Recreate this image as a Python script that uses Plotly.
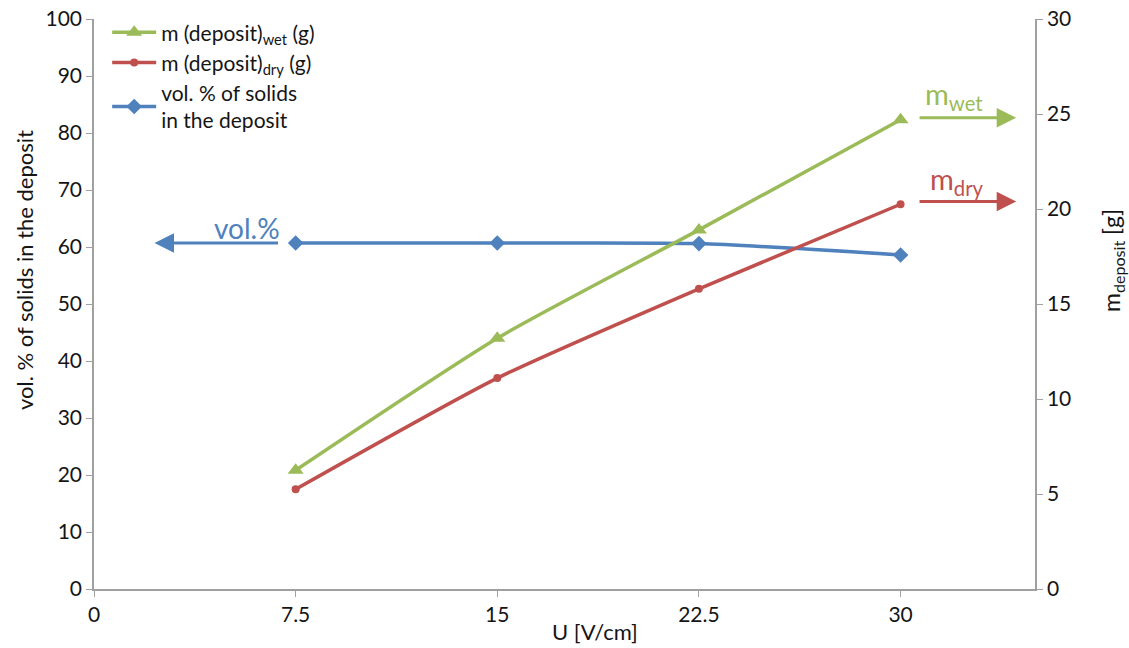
import plotly.graph_objects as go

# Field strength (V/cm)
voltage = [7.5, 15, 22.5, 30]
# Deposit masses (g), right axis
mass_wet = [6.25, 13.2, 18.9, 24.7]
mass_dry = [5.25, 11.1, 15.8, 20.25]
# Solids content of the deposit (vol. %), left axis
vol_solids = [60.7, 60.7, 60.6, 58.6]

x_ticks = [0, 7.5, 15, 22.5, 30]
x_tick_text = ["0", "7.5", "15", "22.5", "30"]

GREEN = "#9BBB59"
RED = "#C0504D"
BLUE = "#4F81BD"
AXIS = "#A0A0A0"
TEXT = "#151515"
FONT = "Lato"

# plot-area edges in pixels, used to place free-standing labels
L, R, T, B = 94, 1035, 19, 589


def px_x(p):
    return (p - L) / (R - L)


def px_y(p):
    return (B - p) / (B - T)


fig = go.Figure()

fig.add_trace(go.Scatter(
    x=voltage, y=mass_wet, yaxis="y2", name="m (deposit)<sub>wet</sub> (g)",
    mode="lines+markers", line=dict(color=GREEN, width=3.5, shape="spline", smoothing=0.6),
    marker=dict(symbol="triangle-up", size=14, color=GREEN),
))
fig.add_trace(go.Scatter(
    x=voltage, y=mass_dry, yaxis="y2", name="m (deposit)<sub>dry</sub> (g)",
    mode="lines+markers", line=dict(color=RED, width=3.5, shape="spline", smoothing=0.6),
    marker=dict(symbol="circle", size=8, color=RED),
))
fig.add_trace(go.Scatter(
    x=voltage, y=vol_solids, yaxis="y", name="vol. % of solids<br>in the deposit",
    mode="lines+markers", line=dict(color=BLUE, width=3.5, shape="spline", smoothing=0.6),
    marker=dict(symbol="diamond", size=12, color=BLUE),
))

centered = dict(xanchor="center", yanchor="middle", showarrow=False)

annotations = [
    # axis titles
    dict(text="vol. % of solids in the deposit", x=px_x(24), y=px_y(270),
         xref="paper", yref="paper", textangle=-90, font=dict(size=22, color=TEXT), **centered),
    dict(text="U [V/cm]", x=px_x(595), y=px_y(631), xref="paper", yref="paper",
         font=dict(size=22, color=TEXT), **centered),
    dict(text="m<sub>deposit</sub> [g]", x=px_x(1112), y=px_y(261), xref="paper", yref="paper",
         textangle=-90, font=dict(size=23, color=TEXT), **centered),
    # series arrows and their labels
    dict(x=2.25, y=60.7, ax=6.9, ay=60.7, xref="x", yref="y", axref="x", ayref="y",
         showarrow=True, arrowhead=2, arrowsize=1.3, arrowwidth=3, arrowcolor=BLUE, text=""),
    dict(x=5.7, y=63.4, xref="x", yref="y", text="vol.%",
         font=dict(size=28, color=BLUE), **centered),
    dict(x=34.3, y=24.8, ax=30.65, ay=24.8, xref="x", yref="y2", axref="x", ayref="y2",
         showarrow=True, arrowhead=2, arrowsize=1.3, arrowwidth=3, arrowcolor=GREEN, text=""),
    dict(x=32.0, y=25.95, xref="x", yref="y2", text="m<sub>wet</sub>",
         font=dict(size=29, color=GREEN), **centered),
    dict(x=32.1, y=21.5, xref="x", yref="y2", text="m<sub>dry</sub>",
         font=dict(size=29, color=RED), **centered),
    dict(x=34.3, y=20.4, ax=30.65, ay=20.4, xref="x", yref="y2", axref="x", ayref="y2",
         showarrow=True, arrowhead=2, arrowsize=1.3, arrowwidth=3, arrowcolor=RED, text=""),
]

tick_font = dict(size=21, color=TEXT)
axis_style = dict(showgrid=False, zeroline=False, showline=True, linecolor=AXIS,
                  linewidth=1.5, ticks="outside", ticklen=6, tickcolor=AXIS,
                  tickfont=tick_font, automargin=False)

fig.update_layout(
    width=1129, height=648,
    margin=dict(l=L, r=1129 - R, t=T, b=648 - B, autoexpand=False),
    plot_bgcolor="white", paper_bgcolor="white",
    font=dict(family=FONT, size=21, color=TEXT),
    showlegend=True,
    legend=dict(x=0.014, y=1.012, xanchor="left", yanchor="top", bgcolor="rgba(0,0,0,0)",
                font=dict(size=21, color=TEXT), tracegroupgap=0, itemwidth=44),
    xaxis=dict(range=[0, 35], tickvals=x_ticks, ticktext=x_tick_text, **axis_style),
    yaxis=dict(range=[0, 100], dtick=10, **axis_style),
    yaxis2=dict(range=[0, 30], dtick=5, overlaying="y", side="right", **axis_style),
    annotations=annotations,
)

fig.write_html("out.html")
